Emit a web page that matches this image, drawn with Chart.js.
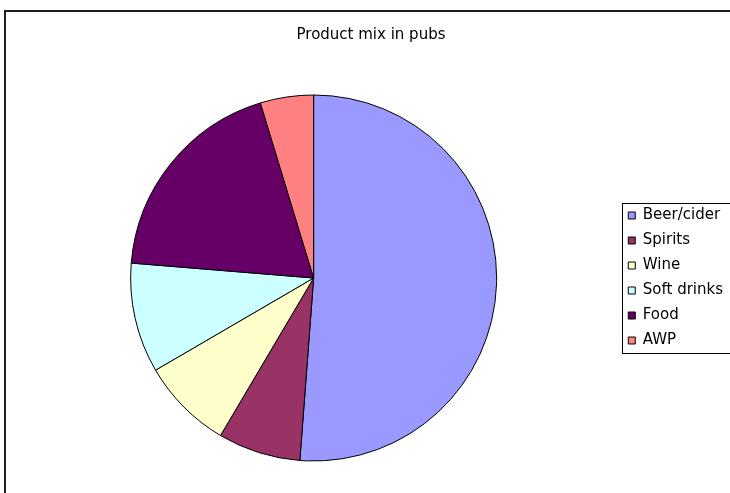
<!DOCTYPE html>
<html>
<head>
<meta charset="utf-8">
<title>Product mix in pubs</title>
<script src="https://cdn.jsdelivr.net/npm/chart.js@4.4.1/dist/chart.umd.min.js"></script>
<style>
  html, body { margin: 0; padding: 0; background: #fff; overflow: hidden; }
  canvas { display: block; }
</style>
</head>
<body>
<canvas id="chartMix" width="733" height="493"></canvas>
<script>
// данные
const categories = ['Beer/cider', 'Spirits', 'Wine', 'Soft drinks', 'Food', 'AWP'];
const shares = [51.2, 7.3, 8.1, 9.7, 19.0, 4.7];
const sliceColors = ['#9999ff', '#993366', '#ffffcc', '#ccffff', '#660066', '#ff8080'];

const FONT = 'DejaVu Sans';

// рамки: вокруг всей диаграммы и вокруг легенды
const framePlugin = {
  id: 'frames',
  beforeDraw(chart) {
    const ctx = chart.ctx;
    ctx.save();
    ctx.fillStyle = '#fff';
    ctx.fillRect(0, 0, chart.width, chart.height);
    ctx.strokeStyle = '#1e1e1e';
    ctx.lineWidth = 2;
    ctx.strokeRect(5, 11, chart.width + 20, chart.height + 20);
    ctx.restore();
  },
  afterDraw(chart) {
    const boxes = chart.legend.legendHitBoxes;
    if (!boxes || !boxes.length) return;
    const first = boxes[0];
    const last = boxes[boxes.length - 1];
    const top = Math.round(first.top - 5);
    const bottom = Math.round(last.top + last.height + 5);
    const ctx = chart.ctx;
    ctx.save();
    ctx.strokeStyle = '#000';
    ctx.lineWidth = 1;
    ctx.strokeRect(Math.round(first.left - 6) + 0.5, top + 0.5, chart.width, bottom - top);
    ctx.restore();
  }
};

new Chart(document.getElementById('chartMix'), {
  type: 'pie',
  data: {
    labels: categories,
    datasets: [{
      data: shares,
      backgroundColor: sliceColors,
      borderColor: '#000',
      borderWidth: 1,
      radius: 183,
    }],
  },
  options: {
    responsive: false,
    animation: false,
    events: [],
    layout: { padding: { left: 9, top: 0, right: 0, bottom: 0 } },
    plugins: {
      title: {
        display: true,
        text: 'Product mix in pubs',
        color: '#000',
        font: { family: FONT, size: 15, weight: 'normal' },
        padding: { top: 26.5, bottom: 18.5 },
      },
      legend: {
        position: 'right',
        fullSize: false,
        labels: {
          color: '#000',
          font: { family: FONT, size: 15 },
          boxWidth: 7,
          boxHeight: 7,
          padding: 10,
        },
      },
      tooltip: { enabled: false },
    },
  },
  plugins: [framePlugin],
});
</script>
</body>
</html>
